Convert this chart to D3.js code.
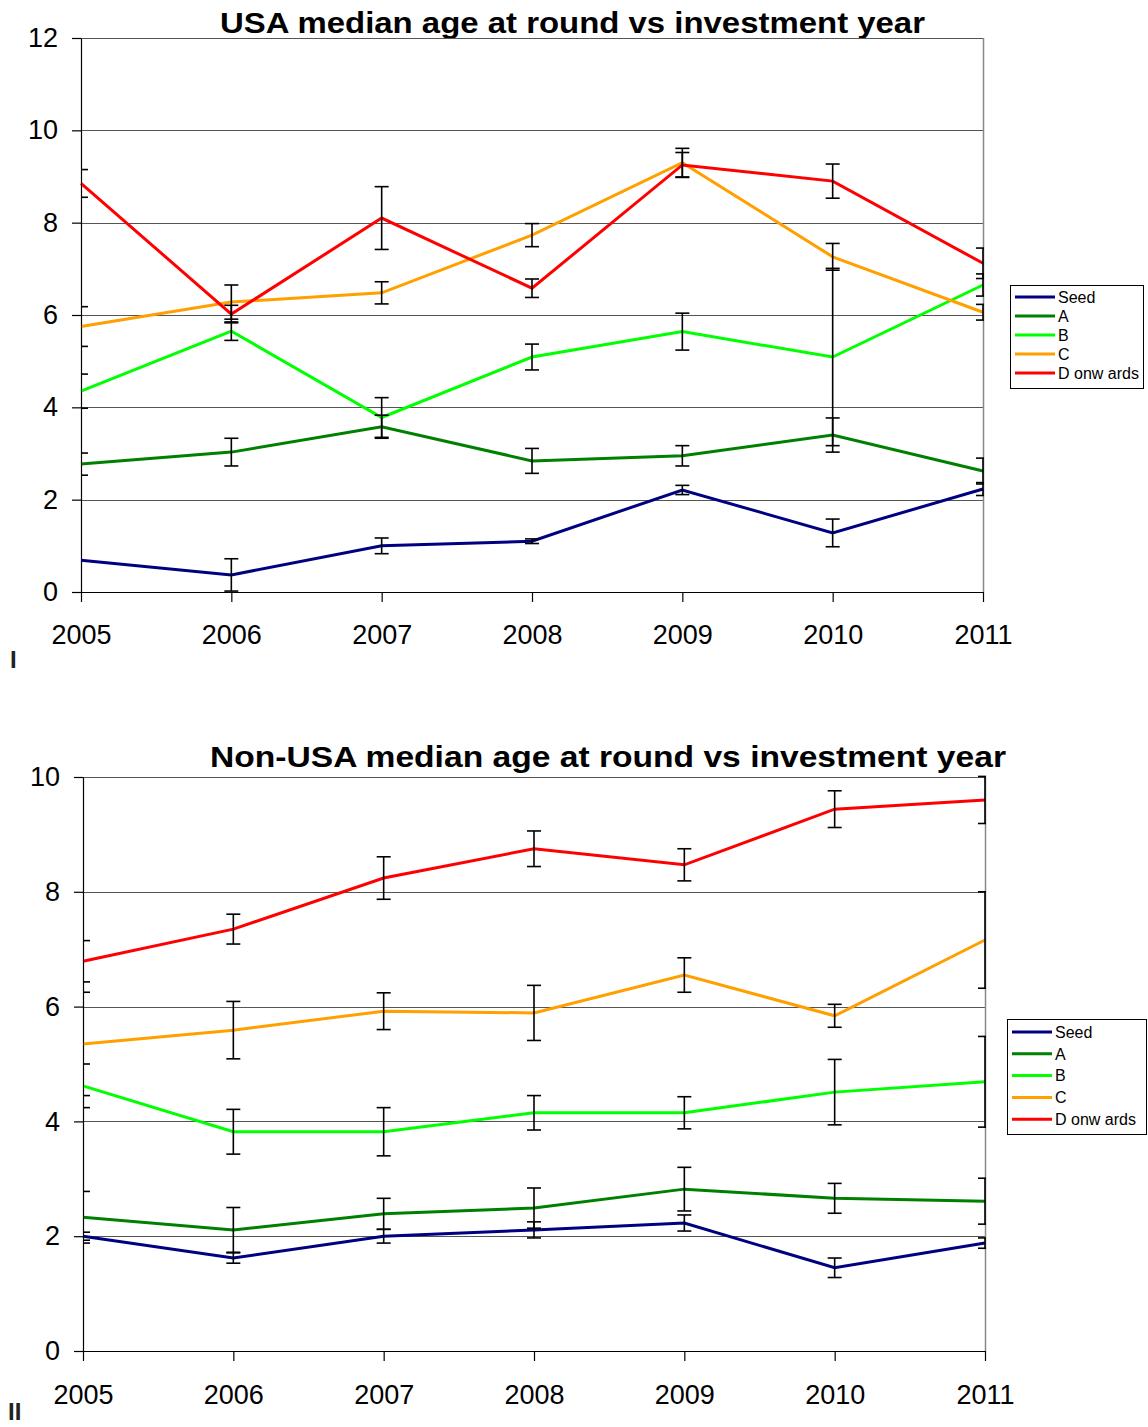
<!DOCTYPE html>
<html>
<head>
<meta charset="utf-8">
<script src="https://cdn.jsdelivr.net/npm/d3@7"></script>
<style>
  html, body { margin: 0; padding: 0; background: #ffffff; }
  svg { display: block; font-family: "Liberation Sans", Arial, sans-serif; }
</style>
</head>
<body>
<svg id="chart" width="1148" height="1427"></svg>
<script>
// Investment years on the x axis
const years = [2005, 2006, 2007, 2008, 2009, 2010, 2011];

// Funding round series
const seriesNames = ["Seed", "A", "B", "C", "D onw ards"];
const seriesColors = ["#000080", "#008000", "#00ff00", "#ffa000", "#ff0000"];

// Panel I: USA median age at round (years) and error half-widths
const usaSeed    = [0.69, 0.37, 1.00, 1.10, 2.21, 1.28, 2.23];
const usaSeedErr = [null, 0.35, 0.17, 0.05, 0.10, 0.30, 0.14];
const usaA       = [2.77, 3.03, 3.58, 2.84, 2.95, 3.40, 2.62];
const usaAErr    = [0.24, 0.30, 0.25, 0.27, 0.22, 0.37, 0.28];
const usaB       = [4.35, 5.65, 3.78, 5.09, 5.64, 5.09, 6.65];
const usaBErr    = [0.37, 0.20, 0.43, 0.28, 0.40, 1.92, 0.24];
const usaC       = [5.75, 6.28, 6.48, 7.73, 9.30, 7.26, 6.06];
const usaCErr    = [0.43, 0.37, 0.24, 0.25, 0.31, 0.29, 0.17];
const usaD       = [8.85, 6.02, 8.10, 6.58, 9.25, 8.90, 7.12];
const usaDErr    = [0.30, 0.19, 0.68, 0.20, 0.27, 0.37, 0.33];

// Panel II: Non-USA median age at round (years) and error half-widths
const nonSeed    = [2.00, 1.62, 2.00, 2.11, 2.23, 1.45, 1.88];
const nonSeedErr = [0.07, 0.09, 0.12, 0.14, 0.14, 0.17, 0.09];
const nonA       = [2.33, 2.11, 2.39, 2.49, 2.82, 2.66, 2.61];
const nonAErr    = [0.45, 0.39, 0.27, 0.35, 0.38, 0.26, 0.40];
const nonB       = [4.62, 3.82, 3.82, 4.15, 4.15, 4.51, 4.69];
const nonBErr    = [0.38, 0.39, 0.42, 0.30, 0.28, 0.57, 0.79];
const nonC       = [5.35, 5.59, 5.92, 5.89, 6.55, 5.84, 7.16];
const nonCErr    = [0.90, 0.50, 0.32, 0.48, 0.30, 0.20, 0.84];
const nonD       = [6.79, 7.35, 8.24, 8.75, 8.47, 9.44, 9.60];
const nonDErr    = [0.36, 0.26, 0.37, 0.31, 0.28, 0.32, 0.41];

// Y tick labels for each panel
const usaYTicks = [0, 2, 4, 6, 8, 10, 12];
const nonYTicks = [0, 2, 4, 6, 8, 10];

const svg = d3.select("#chart");

function drawPanel(cfg) {
  const x = d3.scaleLinear().domain([years[0], years[years.length - 1]]).range([cfg.left, cfg.right]);
  const y = d3.scaleLinear().domain([0, cfg.yMax]).range([cfg.bottom, cfg.top]);
  const g = svg.append("g");

  // title
  g.append("text")
    .attr("x", cfg.titleX).attr("y", cfg.titleY)
    .attr("font-size", 29).attr("font-weight", "bold")
    .attr("textLength", cfg.titleLen).attr("lengthAdjust", "spacingAndGlyphs")
    .text(cfg.title);

  // horizontal gridlines
  g.append("g").selectAll("line").data(cfg.yTicks).join("line")
    .attr("x1", cfg.left).attr("x2", cfg.right)
    .attr("y1", d => Math.round(y(d)) + 0.5).attr("y2", d => Math.round(y(d)) + 0.5)
    .attr("stroke", "#555").attr("stroke-width", 1);

  // right frame edge
  g.append("line")
    .attr("x1", cfg.right + 0.5).attr("x2", cfg.right + 0.5)
    .attr("y1", cfg.top).attr("y2", cfg.bottom)
    .attr("stroke", "#888").attr("stroke-width", 1.5);

  // y axis
  const yAxis = g.append("g")
    .attr("transform", `translate(${cfg.left},0)`)
    .call(d3.axisLeft(y).tickValues(cfg.yTicks).tickFormat(d3.format("d"))
      .tickSize(9).tickSizeOuter(0).tickPadding(14));
  yAxis.selectAll("text").attr("font-size", 27).attr("fill", "#000")
    .attr("font-family", "Liberation Sans, Arial, sans-serif");
  yAxis.selectAll("line, path").attr("stroke", "#000").attr("stroke-width", 1.2);

  // x axis
  const xAxis = g.append("g")
    .attr("transform", `translate(0,${cfg.bottom})`)
    .call(d3.axisBottom(x).tickValues(years).tickFormat(d3.format("d"))
      .tickSize(10).tickSizeOuter(0).tickPadding(cfg.xPad));
  xAxis.selectAll("text").attr("font-size", 27).attr("fill", "#000")
    .attr("font-family", "Liberation Sans, Arial, sans-serif");
  xAxis.selectAll("line, path").attr("stroke", "#000").attr("stroke-width", 1.2);

  // clip region for error bars (plot area)
  const clipId = "clip-" + cfg.id;
  svg.append("defs").append("clipPath").attr("id", clipId)
    .append("rect").attr("x", cfg.left).attr("y", cfg.top - 20)
    .attr("width", cfg.right - cfg.left + 1).attr("height", cfg.bottom - cfg.top + 40);

  const line = d3.line().x((d, i) => x(years[i])).y(d => y(d));

  // series lines
  cfg.values.forEach((vals, s) => {
    g.append("path").datum(vals)
      .attr("d", line)
      .attr("fill", "none")
      .attr("stroke", seriesColors[s])
      .attr("stroke-width", 3)
      .attr("stroke-linejoin", "miter");
  });

  // error bars
  const eg = g.append("g").attr("clip-path", `url(#${clipId})`);
  cfg.values.forEach((vals, s) => {
    const errs = cfg.errors[s];
    vals.forEach((v, i) => {
      const e = errs[i];
      if (e == null) return;
      const cx = x(years[i]);
      const y1 = y(v + e), y2 = y(v - e);
      eg.append("line").attr("x1", cx).attr("x2", cx).attr("y1", y1).attr("y2", y2)
        .attr("stroke", "#000").attr("stroke-width", 1.6);
      [y1, y2].forEach(yy => {
        eg.append("line").attr("x1", cx - 7).attr("x2", cx + 7).attr("y1", yy).attr("y2", yy)
          .attr("stroke", "#000").attr("stroke-width", 1.6);
      });
    });
  });

  // legend
  const lg = g.append("g");
  lg.append("rect")
    .attr("x", cfg.legX + 0.5).attr("y", cfg.legY + 0.5)
    .attr("width", cfg.legW).attr("height", cfg.legH)
    .attr("fill", "#fff").attr("stroke", "#000").attr("stroke-width", 1);
  seriesNames.forEach((name, s) => {
    const ly = cfg.legY + cfg.legFirst + s * cfg.legStep;
    lg.append("line")
      .attr("x1", cfg.legX + 5).attr("x2", cfg.legX + 45)
      .attr("y1", ly).attr("y2", ly)
      .attr("stroke", seriesColors[s]).attr("stroke-width", 3);
    lg.append("text")
      .attr("x", cfg.legX + 48).attr("y", ly).attr("dy", "0.36em")
      .attr("font-size", 16).attr("fill", "#000")
      .text(name);
  });

  // panel label
  g.append("text")
    .attr("x", cfg.markX).attr("y", cfg.markY)
    .attr("font-size", 24).attr("font-weight", "bold").attr("fill", "#222")
    .text(cfg.mark);
}

drawPanel({
  id: "usa",
  title: "USA median age at round vs investment year",
  titleX: 220, titleY: 33, titleLen: 705,
  left: 81, right: 983, top: 38, bottom: 592,
  yMax: 12, yTicks: usaYTicks, xPad: 23,
  values: [usaSeed, usaA, usaB, usaC, usaD],
  errors: [usaSeedErr, usaAErr, usaBErr, usaCErr, usaDErr],
  legX: 1010, legY: 285, legW: 133, legH: 103, legFirst: 12, legStep: 19,
  mark: "I", markX: 10, markY: 668
});

drawPanel({
  id: "non",
  title: "Non-USA median age at round vs investment year",
  titleX: 210, titleY: 767, titleLen: 796,
  left: 83, right: 985, top: 777, bottom: 1351,
  yMax: 10, yTicks: nonYTicks, xPad: 24,
  values: [nonSeed, nonA, nonB, nonC, nonD],
  errors: [nonSeedErr, nonAErr, nonBErr, nonCErr, nonDErr],
  legX: 1007, legY: 1019, legW: 139, legH: 115, legFirst: 13, legStep: 21.8,
  mark: "II", markX: 8, markY: 1420
});
</script>
</body>
</html>
